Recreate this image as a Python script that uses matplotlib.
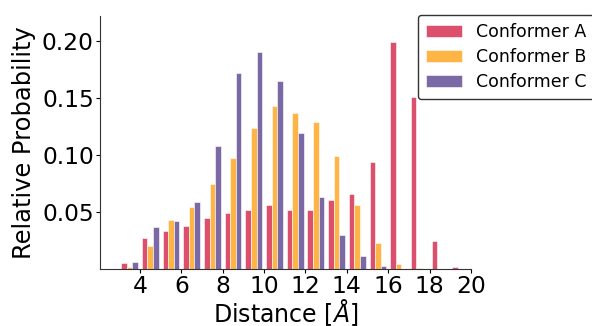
import matplotlib.pyplot as plt
import numpy as np

# bin centres (Å) and relative probabilities
distance = [3.5, 4.5, 5.5, 6.5, 7.5, 8.5, 9.5, 10.5, 11.5, 12.5,
            13.5, 14.5, 15.5, 16.5, 17.5, 18.5, 19.5]
conf_a = [0.005, 0.027, 0.033, 0.038, 0.045, 0.049, 0.052, 0.056, 0.052,
          0.052, 0.0605, 0.0655, 0.094, 0.199, 0.151, 0.0245, 0.002]
conf_b = [0.0015, 0.020, 0.043, 0.054, 0.0746, 0.097, 0.124, 0.143, 0.1366,
          0.129, 0.0994, 0.056, 0.0228, 0.0047, 0.001, 0.0, 0.0]
conf_c = [0.006, 0.037, 0.042, 0.059, 0.108, 0.172, 0.190, 0.165, 0.119,
          0.063, 0.030, 0.011, 0.0024, 0.0, 0.0, 0.0, 0.0]
labels = ["Conformer A", "Conformer B", "Conformer C"]
colors = ["#DC506E", "#FFB546", "#7B69A5"]

x = np.array(distance)
w = 0.27

fig = plt.figure(figsize=(5.92, 3.26), dpi=100)
ax = fig.add_axes([100 / 592, 1 - 269 / 326, 371 / 592, 253 / 326])

for i, (vals, lab, col) in enumerate(zip([conf_a, conf_b, conf_c], labels, colors)):
    ax.bar(x + (i - 1) * w, vals, width=w, color=col, edgecolor="white",
           linewidth=0.4, label=lab)

ax.set_xlim(2.07, 20.0)
ax.set_ylim(0, 0.222)
ax.set_xticks([4, 6, 8, 10, 12, 14, 16, 18, 20])
ax.set_yticks([0.05, 0.10, 0.15, 0.20])
ax.set_yticklabels(["0.05", "0.10", "0.15", "0.20"])
ax.tick_params(labelsize=16.8, length=3, width=0.8, pad=1.5)
ax.spines["top"].set_visible(False)
ax.spines["right"].set_visible(False)
for s in ("left", "bottom"):
    ax.spines[s].set_color("#333333")

ax.set_xlabel("Distance [$Å$]", fontsize=17, labelpad=-0.5)
ax.set_ylabel("Relative Probability", fontsize=17.4, labelpad=4)

ax.legend(loc="upper left", bbox_to_anchor=(418 / 592, 1 - 15 / 326),
          bbox_transform=fig.transFigure, borderaxespad=0, fontsize=12.5,
          frameon=True, edgecolor="#333333", fancybox=True, framealpha=1,
          handlelength=2.1, handletextpad=0.8, borderpad=0.45,
          labelspacing=0.42)

fig.savefig("out.png", dpi=100)
